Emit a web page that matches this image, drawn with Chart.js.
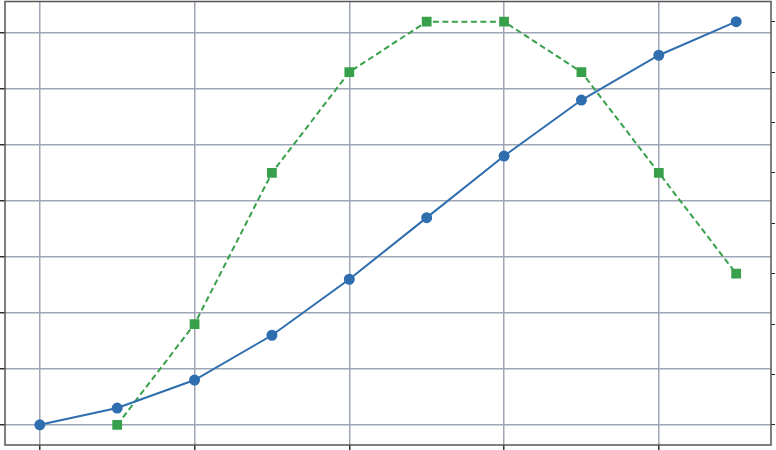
<!DOCTYPE html>
<html>
<head>
<meta charset="utf-8">
<script src="https://cdn.jsdelivr.net/npm/chart.js@4/dist/chart.umd.min.js"></script>
<style>
  html, body { margin: 0; padding: 0; background: #fff; }
  #wrap { width: 776px; height: 450px; }
</style>
</head>
<body>
<div id="wrap"><canvas id="chart" width="776" height="450"></canvas></div>
<script>
// data
const xs = [0, 1, 2, 3, 4, 5, 6, 7, 8, 9];
const blueValues = [0, 0.3, 0.8, 1.6, 2.6, 3.7, 4.8, 5.8, 6.6, 7.2];
const greenValues = [null, 0, 2, 5, 7, 8, 8, 7, 5, 3];
const xTicks = [0, 2, 4, 6, 8];
const leftTicks = [0, 1, 2, 3, 4, 5, 6, 7];
const rightTicks = [0, 1, 2, 3, 4, 5, 6, 7, 8];

const gridColor = '#9ea6b6';

// matplotlib-like 5% margins
function margins(vals) {
    const v = vals.filter(function (d) { return d !== null; });
    const lo = Math.min.apply(null, v), hi = Math.max.apply(null, v);
    const m = (hi - lo) * 0.05;
    return { min: lo - m, max: hi + m };
}
const xr = margins(xs);
const yr = margins(blueValues);
const y2r = margins(greenValues);

const blueData = xs.map(function (x, i) { return { x: x, y: blueValues[i] }; });
const greenData = [];
for (var i = 0; i < xs.length; i++) {
    if (greenValues[i] !== null) greenData.push({ x: xs[i], y: greenValues[i] });
}

function fixedTicks(list) {
    return function (scale) {
        scale.ticks = list.map(function (v) { return { value: v }; });
    };
}

const framePlugin = {
    id: 'frame',
    afterDraw: function (chart) {
        const a = chart.chartArea;
        const ctx = chart.ctx;
        ctx.save();
        ctx.strokeStyle = '#555';
        ctx.lineWidth = 1.5;
        ctx.strokeRect(a.left, a.top, a.right - a.left, a.bottom - a.top);
        ctx.restore();
    }
};

const config = {
    type: 'line',
    data: {
        datasets: [{
            label: 'blue',
            data: blueData,
            yAxisID: 'y',
            borderColor: '#2f6eae',
            backgroundColor: '#2f6eae',
            borderWidth: 2,
            pointRadius: 4.5,
            pointStyle: 'circle',
            fill: false
        }, {
            label: 'green',
            data: greenData,
            yAxisID: 'y2',
            borderColor: '#38a04a',
            backgroundColor: '#38a04a',
            borderWidth: 2,
            borderDash: [6, 3.5],
            pointRadius: 5.5,
            pointStyle: 'rect',
            fill: false
        }]
    },
    options: {
        responsive: false,
        animation: false,
        layout: { autoPadding: false, padding: { top: 1.5, right: 1, left: 0, bottom: 0 } },
        plugins: { legend: { display: false }, tooltip: { enabled: false } },
        scales: {
            x: {
                type: 'linear',
                min: xr.min,
                max: xr.max,
                afterBuildTicks: fixedTicks(xTicks),
                ticks: { display: false },
                grid: { color: gridColor, lineWidth: 1.5, tickLength: 5, tickColor: '#333' },
                border: { display: false }
            },
            y: {
                position: 'left',
                min: yr.min,
                max: yr.max,
                afterBuildTicks: fixedTicks(leftTicks),
                ticks: { display: false },
                grid: { color: gridColor, lineWidth: 1.5, tickLength: 5, tickColor: '#333' },
                border: { display: false }
            },
            y2: {
                position: 'right',
                min: y2r.min,
                max: y2r.max,
                afterBuildTicks: fixedTicks(rightTicks),
                ticks: { display: false },
                grid: { drawOnChartArea: false, tickLength: 4, tickColor: '#222', lineWidth: 1 },
                border: { display: false }
            }
        }
    },
    plugins: [framePlugin]
};

const myChart = new Chart(document.getElementById('chart'), config);
</script>
</body>
</html>
